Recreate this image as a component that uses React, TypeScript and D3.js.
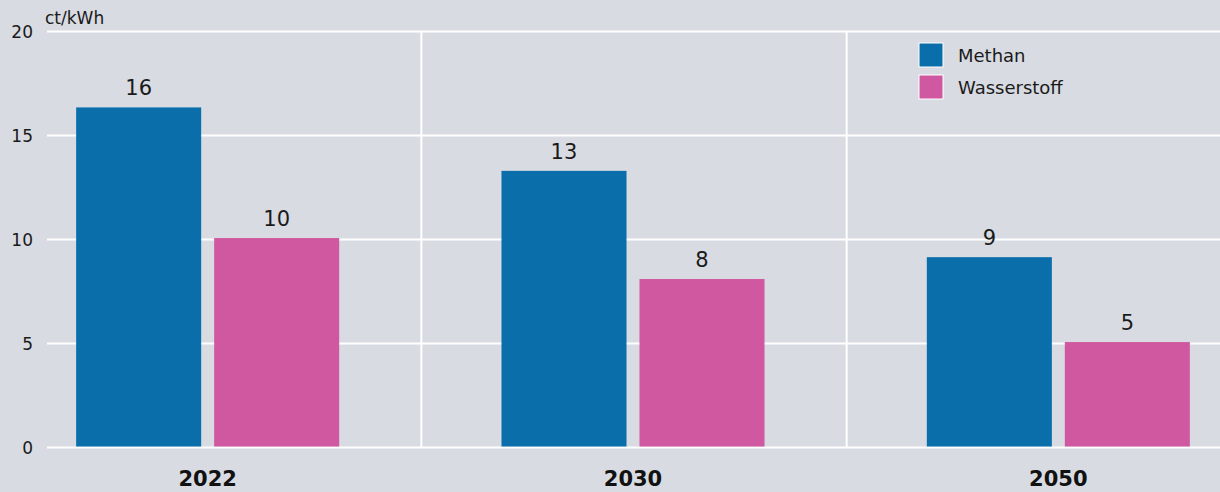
import * as d3 from "d3";
import React, { useEffect, useRef } from "react";

const categories = ["2022", "2030", "2050"];
const seriesNames = ["Methan", "Wasserstoff"];
const methanValues = [16.35, 13.3, 9.15];
const wasserstoffValues = [10.07, 8.1, 5.07];
const valueLabels = [
  ["16", "10"],
  ["13", "8"],
  ["9", "5"],
];
const yTicks = [0, 5, 10, 15, 20];
const unitLabel = "ct/kWh";

const colors = ["#0a6eab", "#d058a0"];
const width = 1220;
const height = 492;
const font = "'DejaVu Sans', sans-serif";

export default function App() {
  const ref = useRef<SVGSVGElement>(null);

  useEffect(() => {
    document.body.style.margin = "0";
    const svg = d3.select(ref.current);
    svg.selectAll("*").remove();

    svg
      .append("rect")
      .attr("width", width)
      .attr("height", height)
      .attr("fill", "#d8dbe2");

    const y = d3.scaleLinear().domain([0, 20]).range([447.5, 31.5]);
    const x0 = d3.scaleBand().domain(categories).range([-5, 1271]);
    const x1 = d3
      .scaleBand()
      .domain(seriesNames)
      .range([0, x0.bandwidth()])
      .paddingInner(0.094)
      .paddingOuter(0.588);

    // horizontal grid
    svg
      .append("g")
      .selectAll("line")
      .data(yTicks)
      .join("line")
      .attr("x1", 47)
      .attr("x2", width)
      .attr("y1", (d) => y(d))
      .attr("y2", (d) => y(d))
      .attr("stroke", "#fff")
      .attr("stroke-width", 2);

    // category separators
    svg
      .append("g")
      .selectAll("line")
      .data(categories.slice(1))
      .join("line")
      .attr("x1", (d) => x0(d)! + 1)
      .attr("x2", (d) => x0(d)! + 1)
      .attr("y1", y(20))
      .attr("y2", y(0))
      .attr("stroke", "#fff")
      .attr("stroke-width", 2);

    // y tick labels
    svg
      .append("g")
      .selectAll("text")
      .data(yTicks)
      .join("text")
      .attr("x", 33)
      .attr("y", (d) => y(d) + 6)
      .attr("text-anchor", "end")
      .attr("font-family", font)
      .attr("font-size", 17)
      .attr("fill", "#1a1a1a")
      .text((d) => d);

    svg
      .append("text")
      .attr("x", 45)
      .attr("y", 24)
      .attr("font-family", font)
      .attr("font-size", 17)
      .attr("fill", "#1a1a1a")
      .text(unitLabel);

    const rows = categories.map((c, i) => ({
      category: c,
      values: [methanValues[i], wasserstoffValues[i]],
      labels: valueLabels[i],
    }));

    const groups = svg
      .append("g")
      .selectAll("g")
      .data(rows)
      .join("g")
      .attr("transform", (d) => `translate(${x0(d.category)},0)`);

    groups
      .selectAll("rect")
      .data((d) => d.values.map((v, j) => ({ key: seriesNames[j], v, j })))
      .join("rect")
      .attr("x", (d) => x1(d.key)!)
      .attr("width", x1.bandwidth())
      .attr("y", (d) => y(d.v))
      .attr("height", (d) => y(0) - 1 - y(d.v))
      .attr("fill", (d) => colors[d.j]);

    groups
      .selectAll("text.val")
      .data((d) =>
        d.values.map((v, j) => ({ key: seriesNames[j], v, label: d.labels[j] }))
      )
      .join("text")
      .attr("class", "val")
      .attr("x", (d) => x1(d.key)! + x1.bandwidth() / 2)
      .attr("y", (d) => y(d.v) - 12)
      .attr("text-anchor", "middle")
      .attr("font-family", font)
      .attr("font-size", 21)
      .attr("fill", "#1a1a1a")
      .text((d) => d.label);

    // category labels
    svg
      .append("g")
      .selectAll("text")
      .data(categories)
      .join("text")
      .attr("x", (d) => x0(d)! + x0.bandwidth() / 2)
      .attr("y", 486)
      .attr("text-anchor", "middle")
      .attr("font-family", font)
      .attr("font-weight", "bold")
      .attr("font-size", 21)
      .attr("fill", "#111")
      .text((d) => d);

    // legend
    const legend = svg
      .append("g")
      .selectAll("g")
      .data(seriesNames)
      .join("g")
      .attr("transform", (d, i) => `translate(919,${43 + i * 32})`);
    legend
      .append("rect")
      .attr("width", 24)
      .attr("height", 24)
      .attr("fill", (d, i) => colors[i])
      .attr("stroke", "#fff")
      .attr("stroke-width", 1);
    legend
      .append("text")
      .attr("x", 39)
      .attr("y", 19)
      .attr("font-family", font)
      .attr("font-size", 18)
      .attr("fill", "#1a1a1a")
      .text((d) => d);
  }, []);

  return (
    <svg ref={ref} width={width} height={height} style={{ display: "block" }} />
  );
}
